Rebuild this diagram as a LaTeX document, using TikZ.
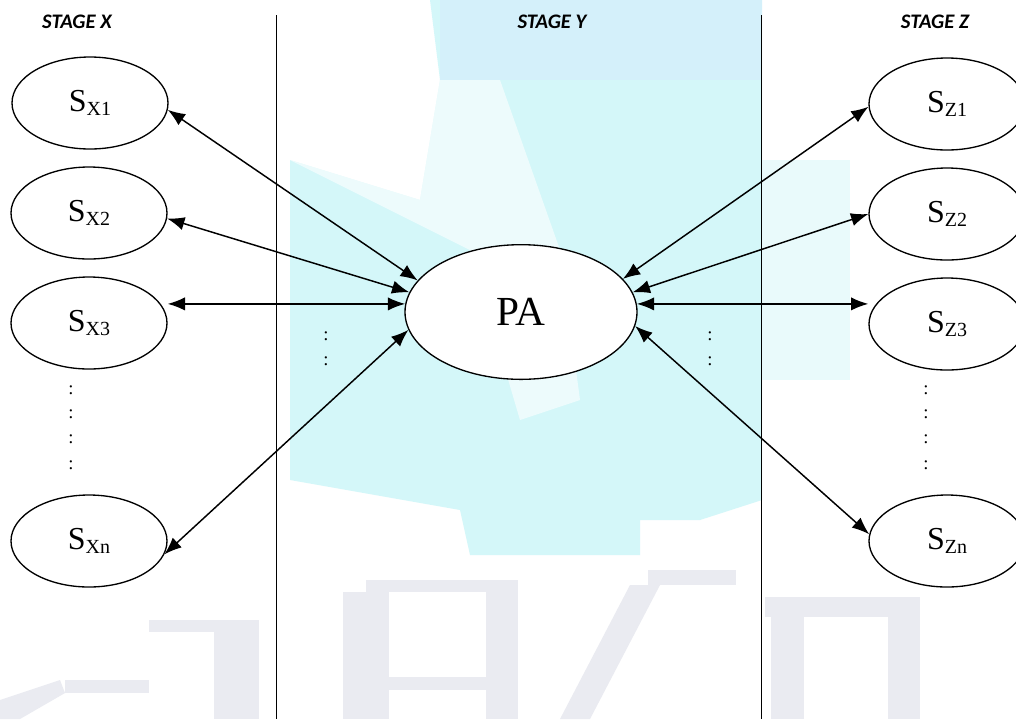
\documentclass[tikz,border=0pt]{standalone}
\usepackage{fontspec}
\setmainfont{Liberation Serif}
\newfontfamily\stagefont{Carlito}
\usetikzlibrary{shapes.geometric,arrows.meta}
\definecolor{wmcyan}{RGB}{212,247,249}
\definecolor{wmblue}{RGB}{212,240,250}
\definecolor{wmgray}{RGB}{234,235,241}
\tikzset{
  sbox/.style={ellipse, draw=black, line width=1pt, fill=white, minimum width=117pt, minimum height=69pt, inner sep=0pt},
  pabox/.style={ellipse, draw=black, line width=1pt, fill=white, minimum width=174pt, minimum height=101pt, inner sep=0pt, font=\fontsize{31}{31}\selectfont},
  link/.style={line width=1.1pt, {Latex[length=13pt,width=10pt]}-{Latex[length=13pt,width=10pt]}},
  stagelbl/.style={font=\stagefont\bfseries\itshape\fontsize{15.5}{17}\selectfont, inner sep=0pt},
  divider/.style={line width=0.75pt},
  dotlbl/.style={font=\fontsize{14}{14}\selectfont, inner sep=0pt},
  wmstroke/.style={fill=wmgray, draw=none},
}
\newcommand{\sname}[1]{{\fontsize{24}{24}\selectfont S}\raisebox{-3.5pt}{\fontsize{15}{15}\selectfont #1}}
\begin{document}
\begin{tikzpicture}[x=0.75pt,y=-0.75pt]
\useasboundingbox (0,0) rectangle (1016,719);
\fill[white] (0,0) rectangle (1016,719);
% watermark
\fill[wmcyan] (430,0) -- (762,0) -- (762,500) -- (700,520) -- (640,520) -- (640,555) -- (470,555) -- (460,510) -- (290,480) -- (290,160) -- (420,200) -- (440,80) -- cycle;
\fill[wmblue] (440,0) -- (762,0) -- (762,80) -- (440,80) -- cycle;
\fill[white, opacity=0.6] (440,80) -- (500,80) -- (560,250) -- (580,400) -- (520,420) -- (470,250) -- (290,160) -- (420,200) -- cycle;
\fill[wmcyan, opacity=0.5] (762,160) rectangle (850,380);
\fill[wmstroke] (149,620) rectangle (259,632);
\fill[wmstroke] (214,632) rectangle (259,719);
\fill[wmstroke] (65,680) rectangle (149,693);
\fill[wmstroke] (0,700) -- (60,680) -- (65,693) -- (20,719) -- (0,719) -- cycle;
\fill[wmstroke] (366,580) rectangle (518,592);
\fill[wmstroke] (343,592) rectangle (389,719);
\fill[wmstroke] (486,592) rectangle (518,719);
\fill[wmstroke] (389,677) rectangle (486,690);
\fill[wmstroke] (648,570) rectangle (736,585);
\fill[wmstroke] (630,585) -- (660,585) -- (590,719) -- (560,719) -- cycle;
\fill[wmstroke] (765,597) rectangle (920,617);
\fill[wmstroke] (771,617) rectangle (804,719);
\fill[wmstroke] (888,617) rectangle (920,719);
% dividers
\coordinate (d1t) at (276,15);
\coordinate (d1b) at (276,719);
\coordinate (d2t) at (761,15);
\coordinate (d2b) at (761,719);
\draw[divider] (d1t) -- (d1b);
\draw[divider] (d2t) -- (d2b);
% stage labels
\node[stagelbl] (sx) at (77,22) {STAGE X};
\node[stagelbl] (sy) at (552,22) {STAGE Y};
\node[stagelbl] (sz) at (935,22) {STAGE Z};
% nodes
\node[sbox] (X1) at (90,103) {\sname{X1}};
\node[sbox] (X2) at (89,213) {\sname{X2}};
\node[sbox] (X3) at (89,323) {\sname{X3}};
\node[sbox] (Xn) at (89,541) {\sname{Xn}};
\node[sbox] (Z1) at (947,104) {\sname{Z1}};
\node[sbox] (Z2) at (947,214) {\sname{Z2}};
\node[sbox] (Z3) at (947,324) {\sname{Z3}};
\node[sbox] (Zn) at (947,541) {\sname{Zn}};
\node[pabox] (PA) at (521,312) {PA};
% dots
\foreach \n/\y in {a/390,b/414,c/439,d/465}{
  \node[dotlbl] (lx\n) at (71,\y) {:};
  \node[dotlbl] (rz\n) at (926,\y) {:};
}
\node[dotlbl] (my1) at (326,336) {:};
\node[dotlbl] (my2) at (326,361) {:};
\node[dotlbl] (my3) at (710,336) {:};
\node[dotlbl] (my4) at (710,361) {:};
% connectors
\draw[link] (X1.-5) -- (PA.163);
\draw[link] (X2.-4) -- (PA.170);
\draw[link] (PA.176) -- (PA.176 -| X3.east);
\draw[link] (Xn.-10) -- (PA.-171);
\draw[link] (PA.18) -- (Z1.182);
\draw[link] (PA.10) -- (Z2.180);
\draw[link] (PA.4) -- (PA.4 -| Z3.west);
\draw[link] (PA.-7) -- (Zn.175);
\end{tikzpicture}
\end{document}
